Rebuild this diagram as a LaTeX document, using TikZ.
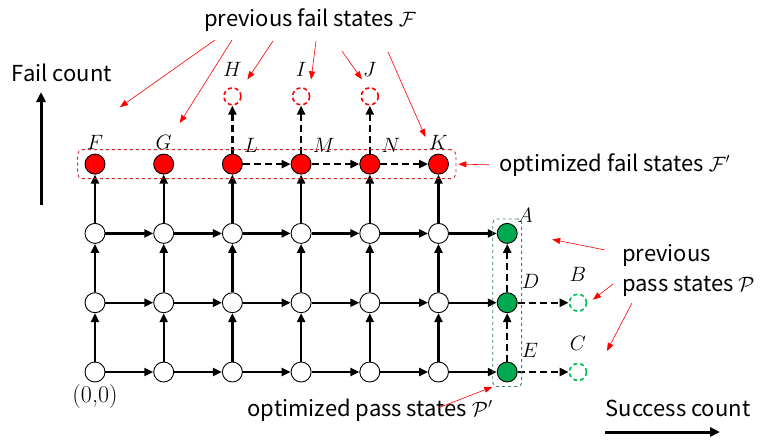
\documentclass[tikz,border=0pt]{standalone}
\usepackage{fontspec}
\usepackage{amsmath}
\newfontfamily\txtfont{Noto Sans CJK SC}
\usetikzlibrary{positioning,fit,calc,arrows.meta}
\definecolor{failred}{RGB}{255,0,0}
\definecolor{boxred}{RGB}{200,40,40}
\definecolor{passgreen}{RGB}{0,168,80}
\definecolor{oldgreen}{RGB}{0,190,90}
\definecolor{boxgreen}{RGB}{70,130,100}

\begin{document}
\begin{tikzpicture}[x=1pt,y=-1pt,
  every node/.style={inner sep=0pt},
  state/.style={circle,draw,line width=0.9pt,minimum size=20pt,fill=white},
  failst/.style={state,fill=failred},
  passst/.style={state,fill=passgreen},
  oldst/.style={circle,draw,line width=1.6pt,minimum size=17pt,dash pattern=on 4pt off 3pt},
  edge/.style={line width=2.4pt,-{Triangle[length=9pt,width=8pt]}},
  dedge/.style={edge,dash pattern=on 7pt off 4pt},
  note/.style={draw=red,line width=0.6pt,-{Triangle[length=8pt,width=6pt]}},
  axis/.style={line width=3pt,-{Triangle[length=10pt,width=9pt]}},
  lbl/.style={font=\fontsize{21}{21}\selectfont},
  txt/.style={font=\txtfont\fontsize{22}{30}\selectfont}]
  % Constants
  \def\xO{95}
  \def\yO{372}
  \def\dx{68.7}
  \def\dy{69.3}
  \useasboundingbox (0,0) rectangle (760,439);

  % white grid states
  \foreach \c in {0,...,5}
    \foreach \r in {0,1,2}
      \node[state] (s-\c-\r) at ({\xO+\c*\dx},{\yO-\r*\dy}) {};

  % optimized fail states (top row)
  \foreach \c/\nm/\pos/\dist in {0/F/above/4pt,1/G/above/4pt,2/L/above right/6pt,3/M/above right/6pt,4/N/above right/6pt,5/K/above/4pt}
    \node[failst,alias=\nm,label={[lbl,label distance=\dist]\pos:$\nm$}] (s-\c-3) at ({\xO+\c*\dx},{\yO-3*\dy}) {};

  % optimized pass states (last column)
  \foreach \r/\nm/\dist in {0/E/10pt,1/D/10pt,2/A/4pt}
    \node[passst,alias=\nm,label={[lbl,label distance=\dist]above right:$\nm$}] (s-6-\r) at ({\xO+6*\dx},{\yO-\r*\dy}) {};

  % previous states
  \node[oldst,draw=failred,above=48pt of L,label={[lbl,label distance=10pt]above:$H$}] (H) {};
  \node[oldst,draw=failred,above=48pt of M,label={[lbl,label distance=10pt]above:$I$}] (I) {};
  \node[oldst,draw=failred,above=48pt of N,label={[lbl,label distance=10pt]above:$J$}] (J) {};
  \node[oldst,draw=oldgreen,right=51pt of D,label={[lbl,label distance=12pt]above:$B$}] (B) {};
  \node[oldst,draw=oldgreen,right=51pt of E,label={[lbl,label distance=12pt]above:$C$}] (C) {};

  % grid edges
  \foreach \c [count=\cc from 1] in {0,...,5}
    \foreach \r [count=\rr from 1] in {0,1,2} {
      \draw[edge] (s-\c-\r) -- (s-\cc-\r);
      \draw[edge] (s-\c-\r) -- (s-\c-\rr);
    }
  \foreach \a/\b in {E/D,D/A,L/M,M/N,N/K,L/H,M/I,N/J,D/B,E/C}
    \draw[dedge] (\a) -- (\b);

  % groups
  \node[draw=boxred,dashed,rounded corners=5pt,line width=0.9pt,inner xsep=7pt,inner ysep=4pt,fit=(F) (K)] (failbox) {};
  \node[draw=boxgreen,dashed,rounded corners=4pt,line width=0.9pt,inner sep=4pt,fit=(A) (E)] (passbox) {};

  % texts
  \node[txt] (prevF) at (310,20) {previous fail states $\mathcal{F}$};
  \node[txt,anchor=west] (optF) at (499,165) {optimized fail states $\mathcal{F}'$};
  \node[txt,align=left,anchor=west] (prevP) at (622,270) {previous\\pass states $\mathcal{P}$};
  \node[txt] (optP) at (370,410) {optimized pass states $\mathcal{P}'$};
  \node[txt] (failtxt) at (62,73) {Fail count};
  \node[txt] (succtxt) at (678,408) {Success count};
  \node[font=\fontsize{24}{24}\selectfont] (zero) at (95,397) {(0,0)};

  % axes
  \coordinate (fbot) at (41,205);
  \coordinate (ftop) at (41,92);
  \coordinate (sleft) at (605,432);
  \coordinate (sright) at (720,432);
  \draw[axis] (fbot) -- (ftop);
  \draw[axis] (sleft) -- (sright);

  % red notes
  \foreach \sx/\sy/\nm/\tx/\ty in {-95/20/F/25/-57,-78/20/G/16/-41,-37/21/H/15/-17,6/21/I/10/-17,32/31/J/-8/-17,78/32/K/-13/-27}
    \draw[note] ([shift={(\sx,\sy)}]prevF.center) -- ([shift={(\tx,\ty)}]\nm.center);
  \draw[note,shorten <=10pt,shorten >=2pt] (optF.west) -- (failbox.east);
  \draw[note] ([shift={(-17,-20)}]prevP.west) -- ([shift={(45,6)}]A.center);
  \draw[note] ([shift={(-9,14)}]prevP.west) -- ([shift={(15,-3)}]B.center);
  \draw[note] ([shift={(10,33)}]prevP.west) -- ([shift={(29,-21)}]C.center);
  \draw[note] ([shift={(68,-2)}]optP.center) -- (passbox.south west);
\end{tikzpicture}
\end{document}
